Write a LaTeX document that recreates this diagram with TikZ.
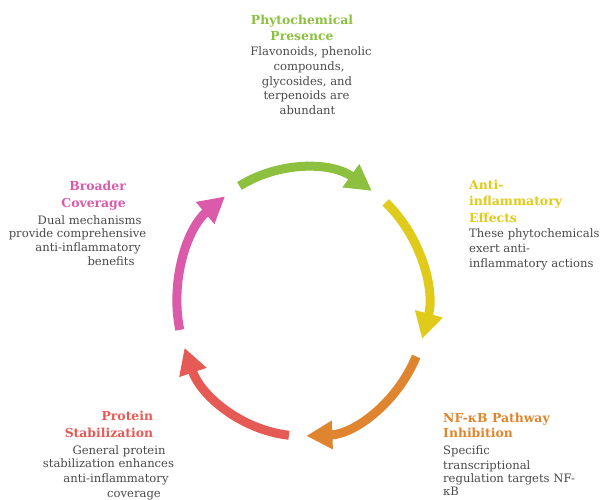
\documentclass[tikz,border=0pt]{standalone}
\usepackage{fontspec}
\setmainfont{DejaVu Serif}
\usetikzlibrary{arrows.meta}

\definecolor{cgreen}{HTML}{8DC03F}
\definecolor{cyellow}{HTML}{E0CB1A}
\definecolor{corange}{HTML}{E0852F}
\definecolor{cred}{HTML}{E55A55}
\definecolor{cpink}{HTML}{DC5AAA}
\definecolor{bodygray}{HTML}{4A4A4A}

\tikzset{
  seg/.style={line width=9pt, -{Triangle[width=27pt,length=26pt]}},
  ttl/.style={inner sep=0pt, font=\bfseries\fontsize{12.4}{14}\selectfont, text height=9pt, text depth=3pt},
  txt/.style={inner sep=0pt, font=\fontsize{11.6}{13}\selectfont, text=bodygray, text height=8.5pt, text depth=3pt},
}

\begin{document}
\begin{tikzpicture}[x=1pt,y=1pt]
\useasboundingbox (0,0) rectangle (603,500);
\fill[white] (0,0) rectangle (603,500);

% the cycle of five arrowed arcs
\coordinate (O) at (302,198);
\foreach \s/\c in {120/cgreen,48/cyellow,-24/corange,-96/cred,-168/cpink}
  \draw[seg,\c] (O) ++(\s:125pt and 134pt)
    arc[start angle=\s, delta angle=-64, x radius=125pt, y radius=134pt];

% Phytochemical Presence
\node[ttl, text=cgreen] (g1) at (302,478.3) {Phytochemical};
\node[ttl, text=cgreen] (g2) at (302,462) {Presence};
\node[txt] (g3) at (311,447) {Flavonoids, phenolic};
\node[txt] (g4) at (309,432) {compounds,};
\node[txt] (g5) at (307,417) {glycosides, and};
\node[txt] (g6) at (306.5,403) {terpenoids are};
\node[txt] (g7) at (307.5,388) {abundant};

% Anti-inflammatory Effects
\node[ttl, text=cyellow, anchor=west] (y1) at (469,313.3) {Anti-};
\node[ttl, text=cyellow, anchor=west] (y2) at (469,297) {inflammatory};
\node[ttl, text=cyellow, anchor=west] (y3) at (469,280) {Effects};
\node[txt, anchor=west] (y4) at (469,265) {These phytochemicals};
\node[txt, anchor=west] (y5) at (469,250) {exert anti-};
\node[txt, anchor=west] (y6) at (469,235) {inflammatory actions};

% NF-kB Pathway Inhibition
\node[ttl, text=corange, anchor=west] (o1) at (443,80) {NF-κB Pathway};
\node[ttl, text=corange, anchor=west] (o2) at (443,65) {Inhibition};
\node[txt, anchor=west] (o3) at (443,48.3) {Specific};
\node[txt, anchor=west] (o4) at (443,33.3) {transcriptional};
\node[txt, anchor=west] (o5) at (443,20) {regulation targets NF-};
\node[txt, anchor=west] (o6) at (443,7) {κB};

% Protein Stabilization
\node[ttl, text=cred, anchor=east] (r1) at (153.3,82) {Protein};
\node[ttl, text=cred, anchor=east] (r2) at (153.3,65) {Stabilization};
\node[txt] (r3) at (119,48.3) {General protein};
\node[txt] (r4) at (108.5,35) {stabilization enhances};
\node[txt] (r5) at (116,20) {anti-inflammatory};
\node[txt] (r6) at (134,5) {coverage};

% Broader Coverage
\node[ttl, text=cpink, anchor=east] (p1) at (126,312) {Broader};
\node[ttl, text=cpink, anchor=east] (p2) at (126,295) {Coverage};
\node[txt] (p3) at (89.7,278.3) {Dual mechanisms};
\node[txt] (p4) at (77.5,265) {provide comprehensive};
\node[txt] (p5) at (88,251) {anti-inflammatory};
\node[txt] (p6) at (111,237) {benefits};
\end{tikzpicture}
\end{document}
